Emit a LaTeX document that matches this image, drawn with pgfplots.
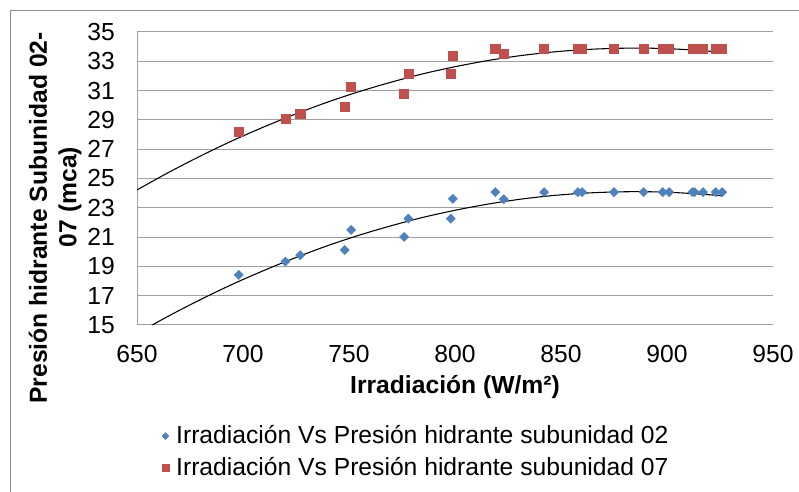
\documentclass[border=0pt]{standalone}
\usepackage{fontspec}
\setmainfont{Liberation Sans}
\usepackage{pgfplots}
\pgfplotsset{compat=1.18}
\definecolor{serblue}{HTML}{4F81BD}
\definecolor{serred}{HTML}{C0504D}
\definecolor{gridgray}{HTML}{A0A0A0}
\definecolor{framegray}{HTML}{8C8C8C}

% Irradiacion (W/m2) vs presion (mca)
\pgfplotstableread{
x    p02    p07
698  18.42  28.20
720  19.33  29.10
727  19.76  29.44
748  20.12  29.92
751  21.49  31.23
776  21.01  30.80
778  22.26  32.15
798  22.26  32.17
799  23.61  33.38
819  24.07  33.84
823  23.59  33.50
842  24.07  33.84
858  24.07  33.84
860  24.07  33.84
875  24.07  33.84
889  24.07  33.84
898  24.07  33.84
901  24.07  33.84
912  24.07  33.84
913  24.07  33.84
917  24.07  33.84
923  24.07  33.84
926  24.07  33.84
}\datos

% trend lines
\pgfplotstableread{
x    t02    t07
650  14.42  24.22
665  15.62  25.42
680  16.74  26.54
695  17.78  27.58
710  18.73  28.53
725  19.61  29.41
740  20.42  30.22
755  21.14  30.94
770  21.78  31.58
785  22.35  32.15
800  22.83  32.63
815  23.24  33.04
830  23.57  33.37
845  23.82  33.62
860  23.99  33.79
875  24.08  33.88
890  24.10  33.90
905  24.03  33.83
920  23.89  33.69
926  23.81  33.61
}\tendencia

\begin{document}
\fontsize{18.5}{22}\selectfont
\begin{tikzpicture}[x=0.75pt,y=0.75pt]
\useasboundingbox (0,0) rectangle (799,492);
\clip (0,0) rectangle (799,492);
\fill[white] (0,0) rectangle (799,492);
\draw[framegray, line width=0.75pt] (10,-5) -- (10,481) -- (805,481);
\begin{axis}[
    at={(102.75pt,125.25pt)}, anchor=south west,
    scale only axis, width=477pt, height=219.75pt,
    xmin=650, xmax=950, ymin=15, ymax=35,
    xtick={650,700,...,950}, ytick={15,17,...,35},
    axis lines=left,
    axis line style={-, draw=gridgray, line width=0.75pt},
    major tick length=0pt,
    ymajorgrids,
    grid style={gridgray, line width=0.75pt},
    /pgf/number format/assume math mode=true,
    every tick label/.append style={font=\fontsize{18.5}{22}\selectfont, inner sep=0pt},
    xticklabel shift=15pt,
    yticklabel shift=16.5pt,
    xlabel={Irradiación (W/m²)},
    xlabel style={font=\fontsize{18.5}{22}\selectfont\bfseries,
                  at={(axis description cs:0.5,-0.2116)}, anchor=center},
    legend style={at={(axis description cs:0.039,-0.341)}, anchor=north west,
                  draw=none, fill=none, inner sep=0pt,
                  nodes={inner sep=0pt}, row sep=7.5pt, column sep=5.5pt,
                  font=\fontsize{18.5}{22}\selectfont},
    legend cell align=left,
    legend image code/.code={\draw[#1, every mark/.append style={scale=0.75}] plot coordinates {(0pt,0pt)};},
]
\addplot[only marks, mark=square*, mark size=2.4pt, mark options={rotate=45, fill=serblue, draw=serblue}]
    table[x=x, y=p02] {\datos};
\addlegendentry{Irradiación Vs Presión hidrante subunidad 02}
\addplot[only marks, mark=square*, mark size=3.4pt, mark options={fill=serred, draw=serred}]
    table[x=x, y=p07] {\datos};
\addlegendentry{Irradiación Vs Presión hidrante subunidad 07}
\addplot[black, line width=0.8pt, smooth, no marks, forget plot] table[x=x, y=t02] {\tendencia};
\addplot[black, line width=0.8pt, smooth, no marks, forget plot] table[x=x, y=t07] {\tendencia};
\end{axis}
\node[font=\fontsize{18.5}{22}\selectfont\bfseries, rotate=90] at (38,274) {Presión hidrante Subunidad 02-};
\node[font=\fontsize{18.5}{22}\selectfont\bfseries, rotate=90] at (70,295) {07 (mca)};
\end{tikzpicture}
\end{document}
